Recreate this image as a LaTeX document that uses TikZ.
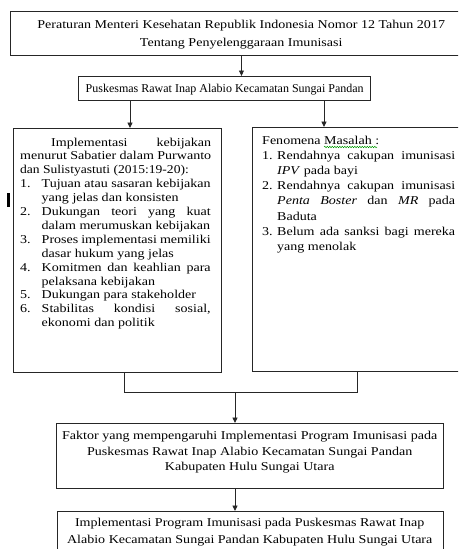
\documentclass[tikz,border=0pt]{standalone}
\usepackage{graphicx}
\usepackage{fontspec}
\setmainfont{Liberation Serif}
\newfontfamily\wide{Liberation Serif}[FakeStretch=1.17]
\usetikzlibrary{arrows.meta,decorations.pathmorphing}
\tikzset{
  box/.style={draw=black!85, line width=0.9pt, anchor=north west, inner sep=0pt},
  txt/.style={anchor=base west, inner sep=0pt, font=\fontsize{12}{14}\selectfont},
  link/.style={draw=black!85, line width=0.9pt},
  arr/.style={link, -{Triangle[length=5.5pt,width=5pt]}}
}
\newcommand{\nm}[1]{\makebox[21.5pt][l]{#1}}
\newcommand{\nr}[1]{\makebox[15pt][l]{#1}}
\begin{document}
\begin{tikzpicture}[x=1pt,y=-1pt]
\useasboundingbox (0,0) rectangle (458,549);
\clip (0,0) rectangle (458,549);
% boxes
\node[box, minimum width=462pt, minimum height=44pt] (top) at (10,11) {};
\node[box, minimum width=292pt, minimum height=24pt] (pusk) at (78,76) {};
\node[box, minimum width=208pt, minimum height=244pt] (lbox) at (13,128) {};
\node[box, minimum width=215pt, minimum height=244pt] (rbox) at (252,127) {};
\node[box, minimum width=387pt, minimum height=65pt] (faktor) at (56,423) {};
\node[box, minimum width=386pt, minimum height=60pt] (impl) at (57,511) {};
% texts
\node[txt] (ttop) at (21,28) {\parbox[t]{440pt}{\centering\wide\fontsize{12}{18.5}\selectfont
Peraturan Menteri Kesehatan Republik Indonesia Nomor 12 Tahun 2017\\
Tentang Penyelenggaraan Imunisasi}};
\node[txt] (tpusk) at (78,92) {\parbox[t]{293pt}{\centering
Puskesmas Rawat Inap Alabio Kecamatan Sungai Pandan}};
\node[txt] (tl) at (20,146) {\parbox[t]{200pt}{\wide\fontsize{12}{13.9}\selectfont
\hspace*{31pt}\makebox[160pt][s]{Implementasi kebijakan}\\
\makebox[191pt][s]{menurut Sabatier dalam Purwanto}\\
\scalebox{0.965}[1]{dan Sulistyastuti (2015:19-20):}\\
\nm{1.}\makebox[169pt][s]{Tujuan atau sasaran kebijakan}\\
\hspace*{21.5pt}yang jelas dan konsisten\\
\nm{2.}\makebox[169pt][s]{Dukungan teori yang kuat}\\
\hspace*{21.5pt}dalam merumuskan kebijakan\\
\nm{3.}\makebox[169pt][s]{Proses implementasi memiliki}\\
\hspace*{21.5pt}dasar hukum yang jelas\\
\nm{4.}\makebox[169pt][s]{Komitmen dan keahlian para}\\
\hspace*{21.5pt}pelaksana kebijakan\\
\nm{5.}Dukungan para stakeholder\\
\nm{6.}\makebox[169pt][s]{Stabilitas kondisi sosial,}\\
\hspace*{21.5pt}ekonomi dan politik}};
\node[txt] (tr) at (262,144.5) {\parbox[t]{200pt}{\wide\fontsize{12}{15.1}\selectfont
Fenomena Masalah :\\
\nr{1.}\makebox[178pt][s]{Rendahnya cakupan imunisasi}\\
\hspace*{15pt}\textit{IPV} pada bayi\\
\nr{2.}\makebox[178pt][s]{Rendahnya cakupan imunisasi}\\
\hspace*{15pt}\makebox[178pt][s]{\textit{Penta Boster} dan \textit{MR} pada}\\
\hspace*{15pt}Baduta\\
\nr{3.}\makebox[178pt][s]{Belum ada sanksi bagi mereka}\\
\hspace*{15pt}yang menolak}};
\node[txt] (tf) at (56,439.5) {\parbox[t]{387pt}{\centering\wide\fontsize{12}{15.5}\selectfont
Faktor yang mempengaruhi Implementasi Program Imunisasi pada\\
Puskesmas Rawat Inap Alabio Kecamatan Sungai Pandan\\
Kabupaten Hulu Sungai Utara}};
\node[txt] (ti) at (56,526.5) {\parbox[t]{387pt}{\centering\wide\fontsize{12}{17}\selectfont
Implementasi Program Imunisasi pada Puskesmas Rawat Inap\\
Alabio Kecamatan Sungai Pandan Kabupaten Hulu Sungai Utara}};
% spell-check underline and cursor
\draw[green!60!black, line width=0.5pt, decorate, decoration={snake, amplitude=0.7pt, segment length=2.5pt}] (324,147) -- (377,147);
\fill[black] (7,193) rectangle (9.5,207);
% connectors
\coordinate (xl) at (130,0);
\coordinate (xr) at (324,0);
\coordinate (jl) at (124,392);
\coordinate (jr) at (357,392);
\coordinate (jm) at (235,392);
\draw[arr] (top.south) -- (top.south |- pusk.north);
\draw[arr] (pusk.south -| xl) -- (lbox.north -| xl);
\draw[arr] (pusk.south -| xr) -- (rbox.north -| xr);
\draw[link] (lbox.south -| jl) -- (jl) -- (jr) -- (rbox.south -| jr);
\draw[arr] (jm) -- (faktor.north -| jm);
\draw[arr] (faktor.south -| jm) -- (impl.north -| jm);
\end{tikzpicture}
\end{document}
